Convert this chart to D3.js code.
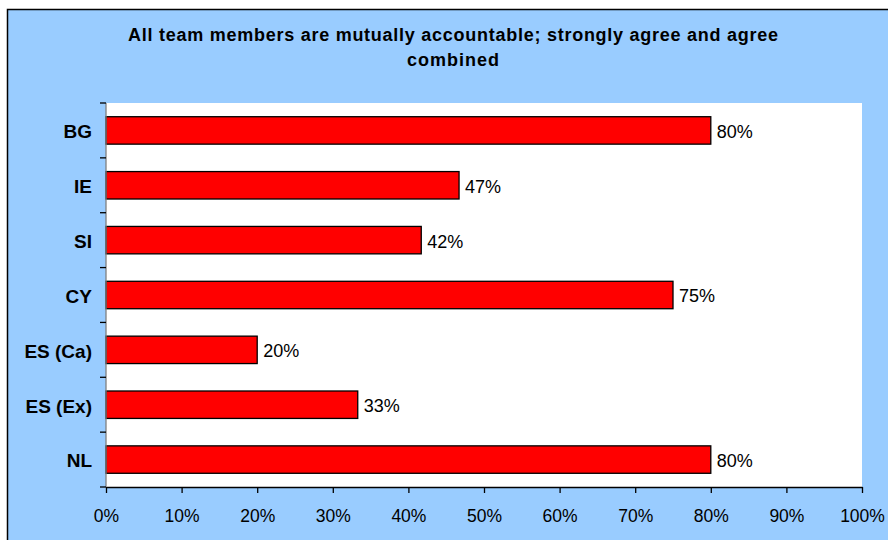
<!DOCTYPE html>
<html>
<head>
<meta charset="utf-8">
<script src="https://cdn.jsdelivr.net/npm/d3@7"></script>
<style>
  html, body { margin: 0; padding: 0; background: #ffffff; }
  svg { display: block; font-family: Arial, "Liberation Sans", sans-serif; }
</style>
</head>
<body>
<svg id="chart" width="888" height="540"></svg>
<script>
const categories = ["BG", "IE", "SI", "CY", "ES (Ca)", "ES (Ex)", "NL"];
const values = [0.80, 0.467, 0.417, 0.75, 0.20, 0.333, 0.80];
const xTicks = [0, 0.1, 0.2, 0.3, 0.4, 0.5, 0.6, 0.7, 0.8, 0.9, 1.0];
const titleLines = ["All team members are mutually accountable; strongly agree and agree", "combined"];

const svg = d3.select("#chart");
// outer chart area
svg.append("rect").attr("x", 7.5).attr("y", 9.5).attr("width", 890).attr("height", 540)
  .attr("fill", "#99CCFF").attr("stroke", "#000").attr("stroke-width", 1.5);

const plot = { left: 106, right: 862, top: 103, bottom: 487 };
svg.append("rect").attr("x", plot.left).attr("y", plot.top)
  .attr("width", plot.right - plot.left).attr("height", plot.bottom - plot.top)
  .attr("fill", "#ffffff");

const x = d3.scaleLinear().domain([0, 1]).range([plot.left, plot.right]);
const y = d3.scaleBand().domain(categories).range([plot.top, plot.bottom]).paddingInner(0.5).paddingOuter(0.25);

// title
const title = svg.append("text").attr("text-anchor", "middle").attr("font-weight", "bold")
  .attr("font-size", 18).attr("fill", "#000");
const titleWidths = [650, 92];
titleLines.forEach((t, i) => {
  title.append("tspan").attr("x", 453).attr("y", 41 + i * 25)
    .attr("textLength", titleWidths[i]).attr("lengthAdjust", "spacing").text(t);
});

// bars
svg.append("g").selectAll("rect").data(categories).join("rect")
  .attr("x", x(0))
  .attr("y", d => y(d))
  .attr("width", (d, i) => x(values[i]) - x(0))
  .attr("height", y.bandwidth())
  .attr("fill", "#FF0000").attr("stroke", "#000").attr("stroke-width", 1.3);

// value labels
svg.append("g").selectAll("text").data(categories).join("text")
  .attr("x", (d, i) => x(values[i]) + 6)
  .attr("y", d => y(d) + y.bandwidth() / 2 + 1)
  .attr("dy", "0.36em")
  .attr("font-size", 18).attr("fill", "#000")
  .text((d, i) => Math.round(values[i] * 100) + "%");

// x axis
const xAxis = d3.axisBottom(x).tickValues(xTicks).tickFormat(d3.format(".0%")).tickSize(6).tickSizeOuter(0);
const gx = svg.append("g").attr("transform", `translate(0,${plot.bottom})`).call(xAxis);
gx.select(".domain").attr("stroke", "#000").attr("stroke-width", 1.3);
gx.selectAll(".tick line").attr("stroke", "#000").attr("stroke-width", 1.3);
gx.selectAll(".tick text").attr("font-size", 17.5).attr("font-family", "Arial, 'Liberation Sans', sans-serif")
  .attr("fill", "#000").attr("y", 22.5).attr("dy", "0.71em");

// y axis: ticks at category boundaries
const boundaries = d3.range(categories.length + 1).map(i => plot.top + i * y.step());
const yLine = svg.append("g");
yLine.append("line").attr("x1", plot.left).attr("x2", plot.left).attr("y1", plot.top).attr("y2", plot.bottom)
  .attr("stroke", "#808080").attr("stroke-width", 1.3);
yLine.selectAll("line.tk").data(boundaries).join("line").attr("class", "tk")
  .attr("x1", plot.left - 6).attr("x2", plot.left).attr("y1", d => d).attr("y2", d => d)
  .attr("stroke", "#000").attr("stroke-width", 1.3);
svg.append("g").selectAll("text").data(categories).join("text")
  .attr("x", 92).attr("y", d => y(d) + y.bandwidth() / 2 + 1).attr("dy", "0.36em")
  .attr("text-anchor", "end").attr("font-weight", "bold").attr("font-size", 19).attr("fill", "#000")
  .text(d => d);
</script>
</body>
</html>
